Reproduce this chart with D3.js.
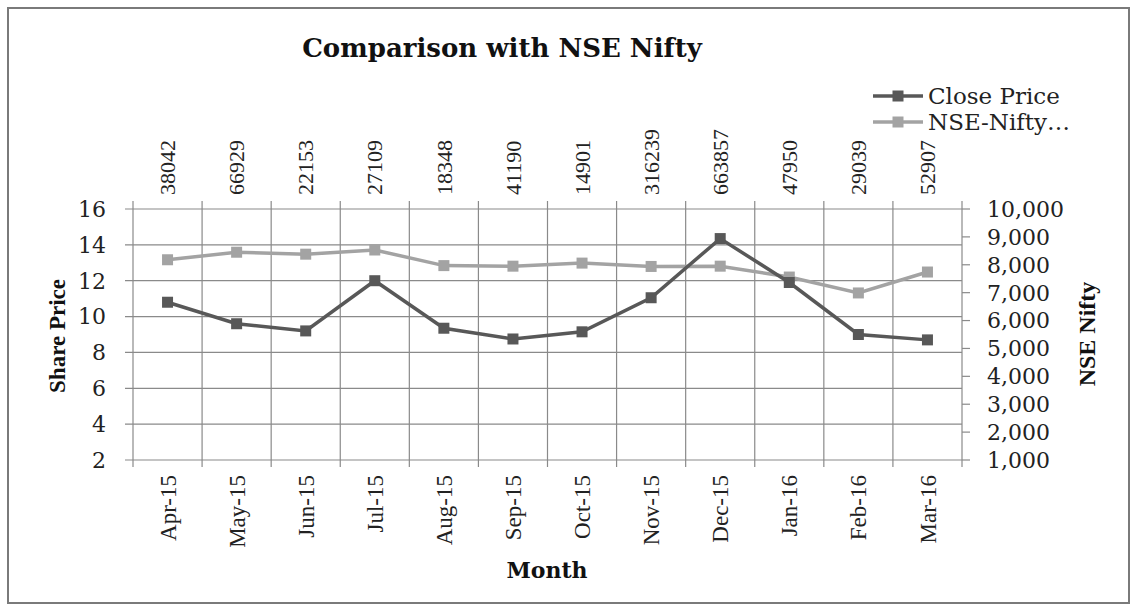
<!DOCTYPE html>
<html>
<head>
<meta charset="utf-8">
<script src="https://cdn.jsdelivr.net/npm/d3@7"></script>
<style>
  body { margin: 0; background: #fff; }
  svg { display: block; }
</style>
</head>
<body>
<div id="container"></div>
<script>
// data
const months = ['Apr-15', 'May-15', 'Jun-15', 'Jul-15', 'Aug-15', 'Sep-15',
    'Oct-15', 'Nov-15', 'Dec-15', 'Jan-16', 'Feb-16', 'Mar-16'];
const volumes = ['38042', '66929', '22153', '27109', '18348', '41190',
    '14901', '316239', '663857', '47950', '29039', '52907'];
const closePrice = [10.8, 9.6, 9.2, 12.0, 9.35, 8.75, 9.15, 11.05, 14.35, 11.9, 9.0, 8.7];
const nifty = [8180, 8450, 8380, 8530, 7970, 7950, 8060, 7940, 7950, 7560, 6990, 7740];
const leftTicks = [2, 4, 6, 8, 10, 12, 14, 16];
const rightTicks = [1000, 2000, 3000, 4000, 5000, 6000, 7000, 8000, 9000, 10000];

const W = 1133, H = 608;
const plot = { left: 133, right: 962, top: 209, bottom: 460 };

const svg = d3.select('#container')
    .append('svg')
    .attr('width', W)
    .attr('height', H);

// frame
svg.append('rect')
    .attr('x', 8).attr('y', 8)
    .attr('width', 1121).attr('height', 595)
    .attr('fill', '#fff')
    .attr('stroke', '#7a7a7a')
    .attr('stroke-width', 2);

const x = d3.scaleBand().domain(months).range([plot.left, plot.right]).padding(0);
const yL = d3.scaleLinear().domain([2, 16]).range([plot.bottom, plot.top]);
const yR = d3.scaleLinear().domain([1000, 10000]).range([plot.bottom, plot.top]);
const cx = d => x(d) + x.bandwidth() / 2;

const grid = svg.append('g').attr('stroke', '#8a8a8a').attr('stroke-width', 1.2);

// horizontal gridlines + left ticks
grid.selectAll('.hl').data(leftTicks).enter()
    .append('line')
    .attr('x1', plot.left - 8).attr('x2', plot.right)
    .attr('y1', d => yL(d)).attr('y2', d => yL(d));

// vertical gridlines at band edges, sticking out top and bottom
const edges = months.map(m => x(m)).concat([plot.right]);
grid.selectAll('.vl').data(edges).enter()
    .append('line')
    .attr('x1', d => d).attr('x2', d => d)
    .attr('y1', plot.top - 8).attr('y2', plot.bottom + 7);

// right axis ticks
grid.selectAll('.rt').data(rightTicks).enter()
    .append('line')
    .attr('x1', plot.right).attr('x2', plot.right + 8)
    .attr('y1', d => yR(d)).attr('y2', d => yR(d));

const serif = "'DejaVu Serif', serif";
const times = "'Liberation Serif', 'Times New Roman', serif";

// left tick labels
svg.append('g').selectAll('text').data(leftTicks).enter()
    .append('text')
    .attr('x', 106).attr('y', d => yL(d))
    .attr('dy', '0.36em')
    .attr('text-anchor', 'end')
    .attr('font-family', serif).attr('font-size', 22)
    .attr('fill', '#222')
    .text(d => d);

// right tick labels
svg.append('g').selectAll('text').data(rightTicks).enter()
    .append('text')
    .attr('x', 987).attr('y', d => yR(d))
    .attr('dy', '0.36em')
    .attr('font-family', serif).attr('font-size', 22)
    .attr('fill', '#222')
    .text(d => d3.format(',')(d));

// month labels (rotated)
svg.append('g').selectAll('text').data(months).enter()
    .append('text')
    .attr('transform', d => `translate(${cx(d)},475) rotate(-90)`)
    .attr('text-anchor', 'end')
    .attr('dy', '0.35em')
    .attr('font-family', times).attr('font-size', 23)
    .attr('fill', '#222')
    .text(d => d);

// volume labels above the plot
svg.append('g').selectAll('text').data(months).enter()
    .append('text')
    .attr('transform', (d, i) => `translate(${cx(d)},195) rotate(-90)`)
    .attr('text-anchor', 'start')
    .attr('dy', '0.35em')
    .attr('font-family', times).attr('font-size', 22)
    .attr('fill', '#222')
    .text((d, i) => volumes[i]);

// series
const series = [
    { name: 'NSE-Nifty\u2026', values: nifty, y: yR, color: '#a3a3a3' },
    { name: 'Close Price', values: closePrice, y: yL, color: '#585858' }
];

series.forEach(s => {
    const line = d3.line()
        .x((d, i) => cx(months[i]))
        .y(d => s.y(d));
    svg.append('path')
        .datum(s.values)
        .attr('fill', 'none')
        .attr('stroke', s.color)
        .attr('stroke-width', 3.5)
        .attr('d', line);
    svg.append('g').selectAll('rect').data(s.values).enter()
        .append('rect')
        .attr('x', (d, i) => cx(months[i]) - 5.5)
        .attr('y', d => s.y(d) - 5.5)
        .attr('width', 11).attr('height', 11)
        .attr('fill', s.color);
});

// title
svg.append('text')
    .attr('x', 502).attr('y', 57)
    .attr('text-anchor', 'middle')
    .attr('font-family', serif).attr('font-weight', 'bold').attr('font-size', 26)
    .attr('fill', '#111')
    .text('Comparison with NSE Nifty');

// axis titles
svg.append('text')
    .attr('x', 547).attr('y', 578)
    .attr('text-anchor', 'middle')
    .attr('font-family', serif).attr('font-weight', 'bold').attr('font-size', 22)
    .attr('fill', '#111')
    .text('Month');

svg.append('text')
    .attr('transform', 'translate(57,336) rotate(-90)')
    .attr('text-anchor', 'middle')
    .attr('dy', '0.35em')
    .attr('font-family', times).attr('font-weight', 'bold').attr('font-size', 23)
    .attr('fill', '#111')
    .text('Share Price');

svg.append('text')
    .attr('transform', 'translate(1087,334) rotate(-90)')
    .attr('text-anchor', 'middle')
    .attr('dy', '0.35em')
    .attr('font-family', times).attr('font-weight', 'bold').attr('font-size', 24)
    .attr('fill', '#111')
    .text('NSE Nifty');

// legend
const legend = svg.append('g');
const legendRows = [series[1], series[0]];
legendRows.forEach((s, i) => {
    const ly = 96 + i * 26;
    legend.append('line')
        .attr('x1', 873).attr('x2', 923)
        .attr('y1', ly).attr('y2', ly)
        .attr('stroke', s.color).attr('stroke-width', 3.5);
    legend.append('rect')
        .attr('x', 898 - 5.5).attr('y', ly - 5.5)
        .attr('width', 11).attr('height', 11)
        .attr('fill', s.color);
    legend.append('text')
        .attr('x', 928).attr('y', ly)
        .attr('dy', '0.36em')
        .attr('font-family', serif).attr('font-size', 23)
        .attr('fill', '#222')
        .text(s.name);
});
</script>
</body>
</html>
